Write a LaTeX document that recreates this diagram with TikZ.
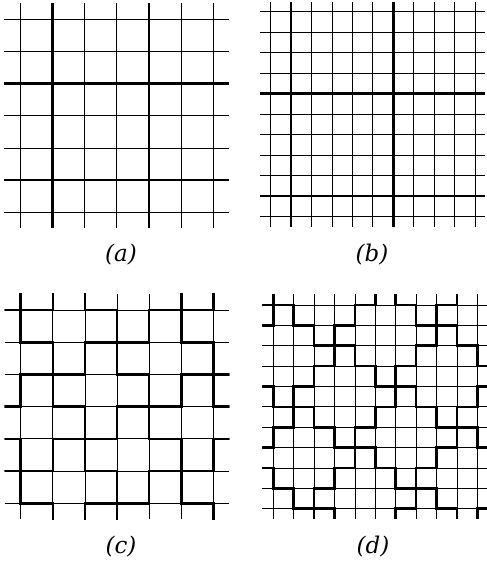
\documentclass[tikz,border=0pt]{standalone}
\usepackage{fontspec}
\newfontfamily\labfont{DejaVu Serif}
\begin{document}
\begin{tikzpicture}[
  thinln/.style={line width=0.8pt, black},
  thickln/.style={line width=2.6pt, black, line join=miter, line cap=butt},
  lab/.style={font=\labfont\fontsize{23}{27}\selectfont\itshape, inner sep=0pt}]
\useasboundingbox (0pt,0pt) rectangle (487pt,-563pt);

% ---------- (a) ----------
\begin{scope}[shift={(20pt,-19.4pt)}, x=32.2pt, y=-32.15pt]
  \foreach \i in {0,...,6} {
    \draw[thinln] (\i,-0.5) -- (\i,6.5);
    \draw[thinln] (-0.5,\i) -- (6.5,\i);
  }
  \foreach \i in {1,4} { \draw[thickln] (\i,-0.5) -- (\i,6.5); }
  \foreach \j in {2,5} { \draw[thickln] (-0.5,\j) -- (6.5,\j); }
\end{scope}
\node[lab] (la) at (121pt,-255pt) {(a)};

% ---------- (b) ----------
\begin{scope}[shift={(270.7pt,-11.7pt)}, x=20.43pt, y=-20.46pt]
  \foreach \i in {0,...,10} {
    \draw[thinln] (\i,-0.45) -- (\i,10.5);
    \draw[thinln] (-0.5,\i) -- (10.5,\i);
  }
  \foreach \i in {1,6} { \draw[thickln] (\i,-0.45) -- (\i,10.5); }
  \foreach \j in {4,9} { \draw[thickln] (-0.5,\j) -- (10.5,\j); }
\end{scope}
\node[lab] (lb) at (372pt,-255pt) {(b)};

% ---------- (c) ----------
\begin{scope}[shift={(20.7pt,-310pt)}, x=32.1pt, y=-32.22pt]
  \foreach \i in {0,...,6} {
    \draw[thinln] (\i,-0.5) -- (\i,6.5);
    \draw[thinln] (-0.5,\i) -- (6.5,\i);
  }
  \clip (-0.5,-0.5) rectangle (6.5,6.5);
  \foreach \a in {-4,...,5} {
    \foreach \b in {-3,...,5} {
      \pgfmathtruncatemacro\cx{1+2*\a+\b}
      \pgfmathtruncatemacro\cy{-\a+2*\b}
      \draw[thickln] (\cx,\cy-1) -- ++(1,0) -- ++(0,1) -- ++(1,0) -- ++(0,1)
        -- ++(-1,0) -- ++(0,1) -- ++(-1,0) -- ++(0,-1) -- ++(-1,0) -- ++(0,-1)
        -- ++(1,0) -- cycle;
    }
  }
\end{scope}
\node[lab] (lc) at (121pt,-547pt) {(c)};

% ---------- (d) ----------
\begin{scope}[shift={(273.3pt,-305pt)}, x=20.4pt, y=-20.37pt]
  \foreach \i in {0,...,10} {
    \draw[thinln] (\i,-0.52) -- (\i,10.5);
    \draw[thinln] (-0.53,\i) -- (10.6,\i);
  }
  \clip (-0.53,-0.52) rectangle (10.6,10.5);
  \foreach \a in {-3,...,6} {
    \foreach \b in {-4,...,5} {
      \pgfmathtruncatemacro\cx{3*\a-2*\b}
      \pgfmathtruncatemacro\cy{2+2*\a+3*\b}
      \draw[thickln] (\cx,\cy-2) -- ++(1,0) -- ++(0,1) -- ++(1,0) -- ++(0,1)
        -- ++(1,0) -- ++(0,1) -- ++(-1,0) -- ++(0,1) -- ++(-1,0) -- ++(0,1)
        -- ++(-1,0) -- ++(0,-1) -- ++(-1,0) -- ++(0,-1) -- ++(-1,0) -- ++(0,-1)
        -- ++(1,0) -- ++(0,-1) -- ++(1,0) -- cycle;
    }
  }
\end{scope}
\node[lab] (ld) at (373pt,-547pt) {(d)};
\end{tikzpicture}
\end{document}
